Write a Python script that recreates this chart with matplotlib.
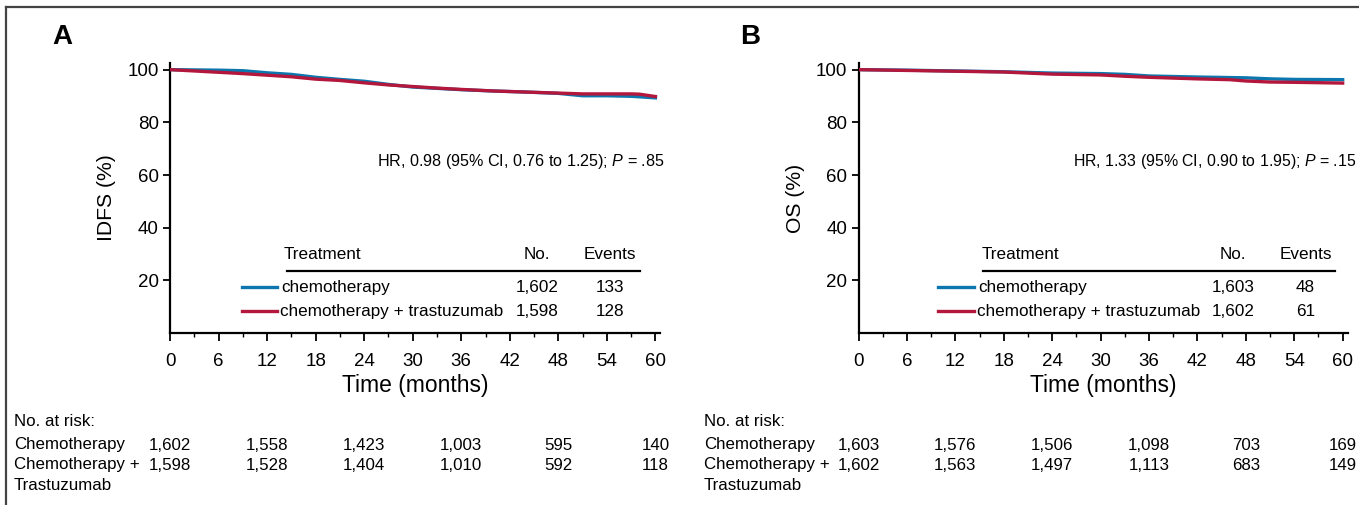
import matplotlib
matplotlib.use('Agg')
import matplotlib.pyplot as plt
import matplotlib.transforms as mtransforms
from matplotlib.lines import Line2D
from matplotlib.ticker import MultipleLocator

plt.rcParams['font.family'] = ['Liberation Sans Narrow', 'Liberation Sans', 'DejaVu Sans']
plt.rcParams['mathtext.fontset'] = 'custom'
plt.rcParams['mathtext.rm'] = 'Liberation Sans'
plt.rcParams['mathtext.it'] = 'Liberation Sans:italic'

# ---------------- data ----------------
panel_labels = ['A', 'B']
y_labels = ['IDFS (%)', 'OS (%)']
x_label = 'Time (months)'
hr_texts = ['HR, 0.98 (95% CI, 0.76 to 1.25); $\\it{P}$ = .85',
            'HR, 1.33 (95% CI, 0.90 to 1.95); $\\it{P}$ = .15']
series_names = ['chemotherapy', 'chemotherapy + trastuzumab']
series_colors = ['#0B77AE', '#B3173B']

# Panel A (IDFS)
a_chemo_t = [0, 3, 6, 9, 12, 15, 18, 21, 24, 27, 30, 33, 36, 40, 44, 48, 51, 54, 57, 60]
a_chemo_y = [100, 99.9, 99.8, 99.6, 98.8, 98.2, 97.1, 96.3, 95.6, 94.4, 93.4, 92.9, 92.4, 91.9, 91.5, 91.0, 90.1, 90.1, 89.9, 89.3]
a_trast_t = [0, 3, 6, 9, 12, 15, 18, 21, 24, 27, 30, 33, 36, 40, 44, 48, 51, 54, 57, 58, 60]
a_trast_y = [100, 99.5, 99.0, 98.5, 97.9, 97.3, 96.4, 95.9, 95.0, 94.2, 93.6, 93.0, 92.5, 91.9, 91.5, 91.1, 90.8, 90.8, 90.8, 90.7, 89.8]
a_no = ['1,602', '1,598']
a_events = ['133', '128']
a_risk_chemo = ['1,602', '1,558', '1,423', '1,003', '595', '140']
a_risk_trast = ['1,598', '1,528', '1,404', '1,010', '592', '118']

# Panel B (OS)
b_chemo_t = [0, 6, 12, 18, 24, 30, 33, 36, 42, 48, 51, 54, 60]
b_chemo_y = [100, 99.8, 99.5, 99.2, 98.7, 98.5, 98.2, 97.6, 97.2, 96.9, 96.5, 96.3, 96.2]
b_trast_t = [0, 6, 12, 18, 24, 30, 33, 36, 42, 46, 48, 51, 54, 60]
b_trast_y = [100, 99.7, 99.4, 99.1, 98.3, 98.0, 97.5, 97.1, 96.5, 96.2, 95.7, 95.3, 95.2, 94.9]
b_no = ['1,603', '1,602']
b_events = ['48', '61']
b_risk_chemo = ['1,603', '1,576', '1,506', '1,098', '703', '169']
b_risk_trast = ['1,602', '1,563', '1,497', '1,113', '683', '149']

risk_times = [0, 12, 24, 36, 48, 60]
risk_row_labels = ['Chemotherapy', 'Chemotherapy +\nTrastuzumab']
x_ticks = [0, 6, 12, 18, 24, 30, 36, 42, 48, 54, 60]
y_ticks = [20, 40, 60, 80, 100]

# ---------------- layout ----------------
W, H = 1359, 505
fig = plt.figure(figsize=(W / 100, H / 100), dpi=100)


def rect(x0, y0, x1, y1):
    return [x0 / W, 1 - y1 / H, (x1 - x0) / W, (y1 - y0) / H]


def fy(y):
    return 1 - y / H


def panel(ax, xfig_left, label, ylab, hr, hr_x, hr_fs, curves, nos, evs, risks, leg):
    for (t, y), c in zip(curves, series_colors):
        ax.plot(t, y, color=c, lw=2.4, solid_joinstyle='round', zorder=3)
    ax.set_xlim(0, 60.6)
    ax.set_ylim(0, 102.6)
    ax.set_xticks(x_ticks)
    ax.xaxis.set_minor_locator(MultipleLocator(3))
    ax.set_yticks(y_ticks)
    for s in ['top', 'right']:
        ax.spines[s].set_visible(False)
    for s in ['left', 'bottom']:
        ax.spines[s].set_linewidth(1.6)
    ax.tick_params(axis='x', which='major', length=6, width=1.3, labelsize=13.5, pad=8)
    ax.tick_params(axis='x', which='minor', length=3, width=1.0)
    ax.tick_params(axis='y', which='major', length=5, width=1.3, labelsize=13.5, pad=3)
    ax.set_xlabel(x_label, fontsize=16.5, labelpad=3)
    ax.set_ylabel(ylab, fontsize=15.2, labelpad=8)

    ax.text(hr_x, 65, hr, ha='right', va='center', fontsize=hr_fs, clip_on=False)

    # legend table
    tx, nx, ex, hl0, hl1, ll0, ll1, lt = leg
    fs = 12.3
    ax.text(tx, 29.7, 'Treatment', ha='left', va='center', fontsize=fs)
    ax.text(nx, 29.7, 'No.', ha='center', va='center', fontsize=fs)
    ax.text(ex, 29.7, 'Events', ha='center', va='center', fontsize=fs)
    ax.plot([hl0, hl1], [23.5, 23.5], color='black', lw=1.6, clip_on=False)
    for i, (name, c) in enumerate(zip(series_names, series_colors)):
        yy = [17.4, 8.4][i]
        ax.plot([ll0, ll1], [yy, yy], color=c, lw=2.4, clip_on=False)
        ax.text(lt - (0.2 if i else 0), yy, name, ha='left', va='center', fontsize=fs)
        ax.text(nx, yy, nos[i], ha='center', va='center', fontsize=fs)
        ax.text(ex, yy, evs[i], ha='center', va='center', fontsize=fs)

    # panel letter
    fig.text(xfig_left / W, fy(37), label, fontsize=20, fontweight='bold',
             ha='left', va='center', family=['Liberation Sans', 'DejaVu Sans'])

    # at risk
    rfs = 12.2
    lab_x = (14 if label == 'A' else 704) / W
    fig.text(lab_x, fy(421), 'No. at risk:', fontsize=rfs, ha='left', va='center')
    trans = mtransforms.blended_transform_factory(ax.transData, fig.transFigure)
    row_y = [445, 465]
    for r, (rl, vals) in enumerate(zip(risk_row_labels, risks)):
        for k, line in enumerate(rl.split('\n')):
            fig.text(lab_x, fy(row_y[r] + 20 * k), line, fontsize=rfs, ha='left', va='center')
        for t, v in zip(risk_times, vals):
            ax.text(t, fy(row_y[r]), v, transform=trans, fontsize=rfs, ha='center', va='center')


axA = fig.add_axes(rect(170, 62.8, 660.3, 333.2))
axB = fig.add_axes(rect(858.5, 62.8, 1347.5, 333.2))

panel(axA, 52, panel_labels[0], y_labels[0], hr_texts[0], 61.1, 11.6,
      [(a_chemo_t, a_chemo_y), (a_trast_t, a_trast_y)], a_no, a_events,
      [a_risk_chemo, a_risk_trast],
      (14.1, 45.4, 54.4, 14.5, 58.1, 8.9, 13.2, 13.8))
panel(axB, 740, panel_labels[1], y_labels[1], hr_texts[1], 61.7, 11.4,
      [(b_chemo_t, b_chemo_y), (b_trast_t, b_trast_y)], b_no, b_events,
      [b_risk_chemo, b_risk_trast],
      (15.2, 46.4, 55.4, 15.4, 59.1, 9.85, 14.3, 14.9))

# outer frame (top and left)
fig.add_artist(Line2D([6 / W, 1.0], [fy(7), fy(7)], color='#444444', lw=1.6))
fig.add_artist(Line2D([6 / W, 6 / W], [fy(7), 0], color='#444444', lw=1.6))

fig.savefig('out.png', dpi=100)
